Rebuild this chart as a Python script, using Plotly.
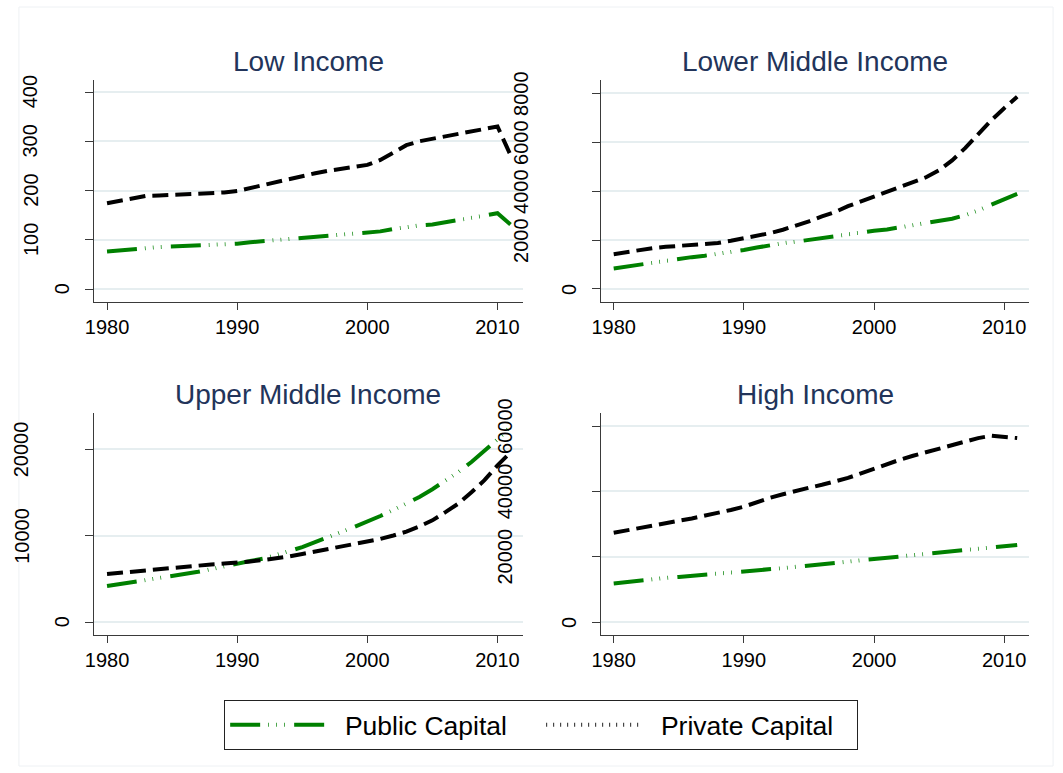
import plotly.graph_objects as go

# ---------------- data ----------------
years = list(range(1980, 2012))

low_private = [174, 179, 184, 189, 190, 191, 191, 192, 194, 196, 199, 205, 211, 218, 225, 230,
               235, 240, 244, 248, 252, 262, 276, 292, 300, 305, 310, 315, 320, 325, 330, 272]
low_public = [76, 79, 81, 83, 85, 86, 87, 88, 89, 90, 92, 95, 97, 99, 101, 103,
              105, 107, 109, 111, 113, 117, 122, 126, 129, 131, 135, 139, 144, 149, 154, 131]

lowmid_private = [1420, 1510, 1600, 1670, 1720, 1760, 1790, 1820, 1880, 1970, 2070, 2170, 2280, 2420, 2580, 2760,
                  2960, 3140, 3380, 3580, 3760, 3960, 4160, 4360, 4560, 4850, 5250, 5750, 6320, 6880, 7380, 7850]
lowmid_public = [840, 920, 1000, 1090, 1170, 1240, 1300, 1360, 1430, 1510, 1590, 1690, 1790, 1870, 1930, 2010,
                 2090, 2170, 2250, 2310, 2380, 2430, 2510, 2590, 2670, 2760, 2870, 3010, 3200, 3440, 3680, 3880]

upmid_private = [5550, 5700, 5850, 5990, 6150, 6300, 6420, 6530, 6650, 6760, 6850, 7000, 7170, 7340, 7580, 7860,
                 8160, 8460, 8760, 9030, 9270, 9600, 10000, 10450, 11050, 11750, 12700, 13700, 15000, 16400, 18100, 19600]
upmid_public = [4150, 4380, 4600, 4830, 5050, 5300, 5550, 5800, 6100, 6450, 6780, 7050, 7330, 7730, 8200, 8650,
                9200, 9800, 10400, 11000, 11600, 12250, 12950, 13650, 14450, 15350, 16300, 17350, 18500, 19750, 21100, 22600]

high_private = [27300, 28100, 28900, 29700, 30300, 31000, 31700, 32500, 33400, 34300, 35300, 36700, 38000, 39100, 40200, 41100,
                42000, 42900, 44100, 45500, 47000, 48300, 49700, 50900, 52000, 52900, 54000, 55200, 56300, 57000, 56800, 56300]
high_public = [11800, 12300, 12800, 13200, 13500, 13800, 14100, 14400, 14700, 15000, 15300, 15700, 16100, 16500, 16900, 17300,
               17700, 18100, 18500, 18900, 19300, 19700, 20100, 20500, 20900, 21300, 21700, 22100, 22500, 22900, 23300, 23600]

panel_titles = ["Low Income", "Lower Middle Income", "Upper Middle Income", "High Income"]
x_ticks = [1980, 1990, 2000, 2010]
low_yticks = [0, 100, 200, 300, 400]
lowmid_yticks = [0, 2000, 4000, 6000, 8000]
upmid_yticks = [0, 10000, 20000]
high_yticks = [0, 20000, 40000, 60000]
series_names = ["Public Capital", "Private Capital"]

# ---------------- style ----------------
W, H = 1063, 773
FONT = "Liberation Sans, Arial, Helvetica, sans-serif"
GREEN = "#008000"
BLACK = "#000000"
AXIS = "#3a3a3a"
GRID = "#e6eef0"
TITLE_C = "#22345a"
GREEN_DASH = "30px,8px,0.7px,7.3px,0.7px,7.3px,0.7px,9.3px"
BLACK_DASH = "16px,7px"
NBSP = "\u00a0"
TICK_FS = 20


def xd(a, b):
    return [a / W, b / W]


def yd(top, bottom):
    return [1 - bottom / H, 1 - top / H]


panels = [
    dict(priv=low_private, pub=low_public, yt=low_yticks, left=86, right=518, ydom=yd(80, 302),
         yr=[-26.4, 424.4]),
    dict(priv=lowmid_private, pub=lowmid_public, yt=lowmid_yticks, left=597, right=1029, ydom=yd(80, 302),
         yr=[-531, 8531]),
    dict(priv=upmid_private, pub=upmid_public, yt=upmid_yticks, left=86, right=518, ydom=yd(413, 635),
         yr=[-1503, 24162]),
    dict(priv=high_private, pub=high_public, yt=high_yticks, left=597, right=1029, ydom=yd(413, 635),
         yr=[-3980, 63980]),
]

fig = go.Figure()
layout = dict(
    width=W, height=H, margin=dict(l=0, r=0, t=0, b=0),
    paper_bgcolor="white", plot_bgcolor="white",
    font=dict(family=FONT, color="black"),
    showlegend=True,
)
annotations = []

for i, p in enumerate(panels):
    n = "" if i == 0 else str(i + 1)
    xa, ya = "x" + n, "y" + n
    fig.add_trace(go.Scatter(x=years, y=p["pub"], mode="lines", name=NBSP * 2 + series_names[0],
                             line=dict(color=GREEN, width=4, dash=GREEN_DASH),
                             xaxis=xa, yaxis=ya, showlegend=(i == 0), legendrank=1))
    fig.add_trace(go.Scatter(x=years, y=p["priv"], mode="lines", name=series_names[1],
                             line=dict(color=BLACK, width=4, dash=BLACK_DASH),
                             xaxis=xa, yaxis=ya, showlegend=False))
    layout["xaxis" + n] = dict(
        domain=xd(p["left"], p["right"]), anchor=ya, range=[1979.02, 2011.93],
        tickvals=x_ticks, ticks="outside", ticklen=7, tickwidth=1.3, tickcolor=AXIS,
        showline=True, linecolor=AXIS, linewidth=1.3, showgrid=False, zeroline=False,
        tickfont=dict(size=TICK_FS, color="black", family=FONT),
    )
    layout["yaxis" + n] = dict(
        domain=p["ydom"], anchor=xa, range=p["yr"],
        tickvals=p["yt"], ticks="outside", ticklen=8, tickwidth=1.3, tickcolor=AXIS,
        showticklabels=False,
        showline=True, linecolor=AXIS, linewidth=1.3, showgrid=True, gridcolor=GRID, gridwidth=1.5,
        zeroline=False,
    )
    # panel title
    annotations.append(dict(
        text=panel_titles[i], xref="x" + n + " domain", yref="paper",
        x=0.5, y=1 - (61.5 if i < 2 else 394.5) / H, xanchor="center", yanchor="middle",
        showarrow=False, font=dict(size=28, color=TITLE_C, family=FONT)))
    # vertical y tick labels (Stata-style placement: longer labels sit further left),
    # kept inside the page so that none is cut off
    for v in p["yt"]:
        lab = str(v)
        shift = min(32 + 16 * (len(lab) - 1), p["left"] - 13)
        annotations.append(dict(
            text=lab, xref="x" + n + " domain", yref=ya, x=0, y=v,
            xanchor="center", yanchor="middle", textangle=-90,
            xshift=-shift, showarrow=False,
            font=dict(size=TICK_FS, color="black", family=FONT)))

# legend-only entry for private capital (legend key drawn as in the reference)
fig.add_trace(go.Scatter(x=[None], y=[None], mode="lines", name=NBSP * 2 + series_names[1],
                         line=dict(color="#222222", width=4, dash="1px,6px"),
                         showlegend=True, legendrank=2))

layout["annotations"] = annotations
layout["legend"] = dict(
    orientation="h", x=217 / W, xanchor="left", y=1 - 700 / H, yanchor="top",
    bordercolor="#222222", borderwidth=1, bgcolor="white",
    font=dict(size=26.5, family=FONT, color="black"),
    itemwidth=95, entrywidth=206, entrywidthmode="pixels",
    traceorder="normal",
)
layout["shapes"] = [dict(type="rect", xref="paper", yref="paper",
                         x0=10 / W, x1=1053 / W, y0=1 - 766 / H, y1=1 - 7 / H,
                         line=dict(color="#eef1f4", width=1), fillcolor="rgba(0,0,0,0)", layer="below")]
fig.update_layout(**layout)
fig.write_html("out.html", config={"displayModeBar": False},
               post_script="document.body.style.margin='0px';")
